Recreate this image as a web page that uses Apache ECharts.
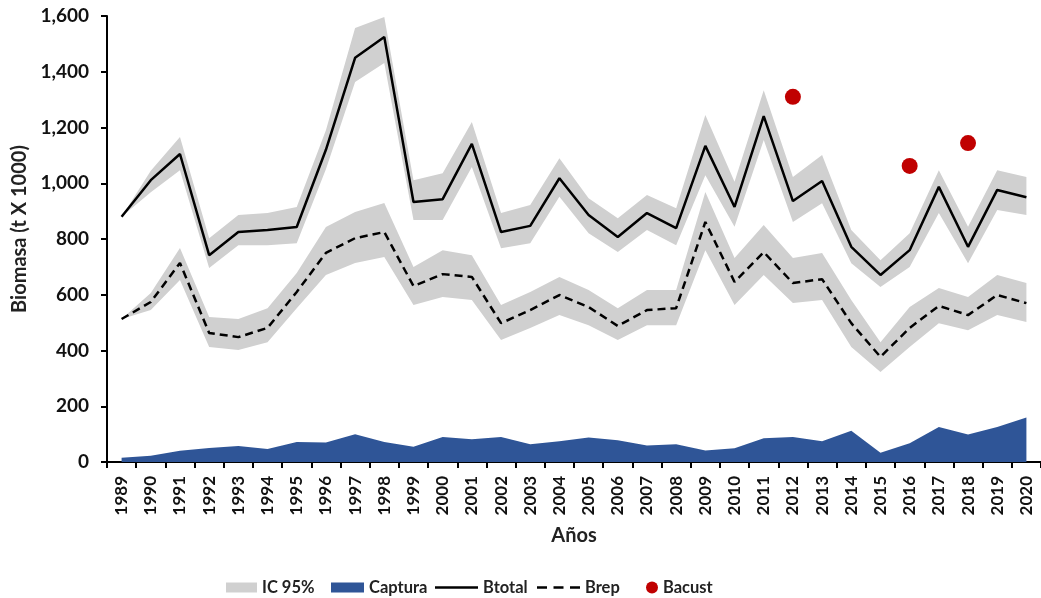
<!DOCTYPE html>
<html>
<head>
<meta charset="utf-8">
<script src="https://cdn.jsdelivr.net/npm/echarts@6/dist/echarts.min.js"></script>
<style>
html,body{margin:0;padding:0;background:#fff;}
#c{width:1041px;height:598px;}
</style>
</head>
<body>
<div id="c"></div>
<script>
const years = ['1989','1990','1991','1992','1993','1994','1995','1996','1997','1998','1999','2000','2001','2002','2003','2004','2005','2006','2007','2008','2009','2010','2011','2012','2013','2014','2015','2016','2017','2018','2019','2020'];
const btotal   = [880,1011,1105,742,825,832,843,1120,1450,1525,933,943,1141,825,847,1018,886,807,893,839,1134,915,1241,936,1008,772,671,760,987,772,976,950];
const btotalLo = [880, 968,1047,696,778,778,785,1050,1363,1431,868,868,1058,767,785,952,821,753,832,778,1029,844,1155,861,928,713,628,700,893,713,904,886];
const btotalHi = [880,1045,1166,803,886,893,915,1190,1557,1596,1011,1036,1220,893,922,1090,946,874,958,910,1245,1005,1334,1022,1101,832,724,821,1047,844,1047,1022];
const brep   = [513,574,714,463,448,481,610,750,803,825,631,674,664,498,545,599,556,488,545,552,861,646,753,642,656,498,377,481,560,527,599,570];
const brepLo = [513,545,653,413,402,430,552,671,714,735,563,592,581,438,481,527,491,438,491,491,760,563,671,570,581,413,323,413,498,473,527,502];
const brepHi = [513,606,768,520,513,552,678,843,897,929,700,760,742,563,610,664,617,552,617,617,969,732,850,732,750,581,430,556,624,592,671,642];
const captura = [15,22,40,50,57,47,72,70,100,72,55,90,82,90,64,74,88,78,59,64,41,49,85,90,74,112,33,67,126,99,126,160];
const bacustYears = ['2012','2016','2018'];
const bacustValues = [1310,1062,1144];
const yTicks = {min:0, max:1600, interval:200};

const FONT = 'Lato';
const GRAY = '#d0d0d0';
const BLUE = '#2f5597';
const RED = '#c00000';

const diff = (hi, lo) => hi.map((v,i) => v - lo[i]);

const LINE_ICON = 'path://M0,0H43V2.6H0Z';
const DASH_ICON = 'path://M0,0H10V2.6H0Z M16.5,0H26.5V2.6H16.5Z M33,0H43V2.6H33Z';
const legendText = {fontFamily:FONT, fontWeight:'bold', fontSize:16.5, color:'#222'};
const LEG_TOP = 574;
function leg(name, left, icon, w, h) {
  return {left:left, top:LEG_TOP, itemWidth:w, itemHeight:h, itemGap:0, symbolKeepAspect:true,
    textStyle:legendText, data:[{name:name, icon:icon}]};
}

const chart = echarts.init(document.getElementById('c'), null, {renderer:'canvas'});
chart.setOption({
  animation:false,
  textStyle:{fontFamily:FONT},
  grid:{left:107, top:16, width:941, height:446, containLabel:false},
  legend:[
    leg('IC 95%', 221, 'rect', 31, 10),
    leg('Captura', 326, 'rect', 33, 10),
    leg('Btotal', 430, LINE_ICON, 43, 10),
    leg('Brep', 532, DASH_ICON, 43, 10),
    leg('Bacust', 641, 'circle', 12, 12)
  ],
  xAxis:{
    type:'category', data:years, boundaryGap:true,
    axisLine:{lineStyle:{color:'#000', width:2}},
    axisTick:{show:true, length:6, lineStyle:{color:'#000', width:2}},
    axisLabel:{rotate:90, margin:14, fontFamily:FONT, fontWeight:'bold', fontSize:17, color:'#111', interval:0},
    name:'Años', nameLocation:'middle', nameGap:64,
    nameTextStyle:{fontFamily:FONT, fontWeight:'bold', fontSize:20, color:'#222'},
    splitLine:{show:false}
  },
  yAxis:{
    type:'value', min:yTicks.min, max:yTicks.max, interval:yTicks.interval,
    axisLine:{show:true, lineStyle:{color:'#000', width:2}},
    axisTick:{show:true, length:6, lineStyle:{color:'#000', width:2}},
    axisLabel:{margin:18, fontFamily:FONT, fontWeight:'bold', fontSize:19, color:'#111',
      formatter:v => v.toLocaleString('en-US')},
    splitLine:{show:false},
    name:'Biomasa (t X 1000)', nameLocation:'middle', nameGap:76,
    nameTextStyle:{fontFamily:FONT, fontWeight:'bold', fontSize:20, color:'#222', padding:[0,0,0,20]}
  },
  series:[
    {name:'btLo', type:'line', stack:'bt', data:btotalLo, symbol:'none', lineStyle:{width:0, opacity:0}, silent:true, z:1},
    {name:'IC 95%', type:'line', stack:'bt', data:diff(btotalHi, btotalLo), symbol:'none',
      lineStyle:{width:0, opacity:0}, areaStyle:{color:GRAY, opacity:1}, itemStyle:{color:GRAY}, z:1},
    {name:'brLo', type:'line', stack:'br', data:brepLo, symbol:'none', lineStyle:{width:0, opacity:0}, silent:true, z:1},
    {name:'IC 95%', type:'line', stack:'br', data:diff(brepHi, brepLo), symbol:'none',
      lineStyle:{width:0, opacity:0}, areaStyle:{color:GRAY, opacity:1}, itemStyle:{color:GRAY}, z:1},
    {name:'Captura', type:'line', data:captura, symbol:'none',
      lineStyle:{width:0}, areaStyle:{color:BLUE, opacity:1}, itemStyle:{color:BLUE}, z:2},
    {name:'Btotal', type:'line', data:btotal, symbol:'none',
      lineStyle:{color:'#000', width:2.5}, itemStyle:{color:'#000'}, z:3},
    {name:'Brep', type:'line', data:brep, symbol:'none',
      lineStyle:{color:'#000', width:2.5, type:[8,5]}, itemStyle:{color:'#000'}, z:3},
    {name:'Bacust', type:'scatter', data:bacustYears.map((y,i)=>[y, bacustValues[i]]),
      symbol:'circle', symbolSize:16, itemStyle:{color:RED, opacity:1}, z:4}
  ]
});
</script>
</body>
</html>
